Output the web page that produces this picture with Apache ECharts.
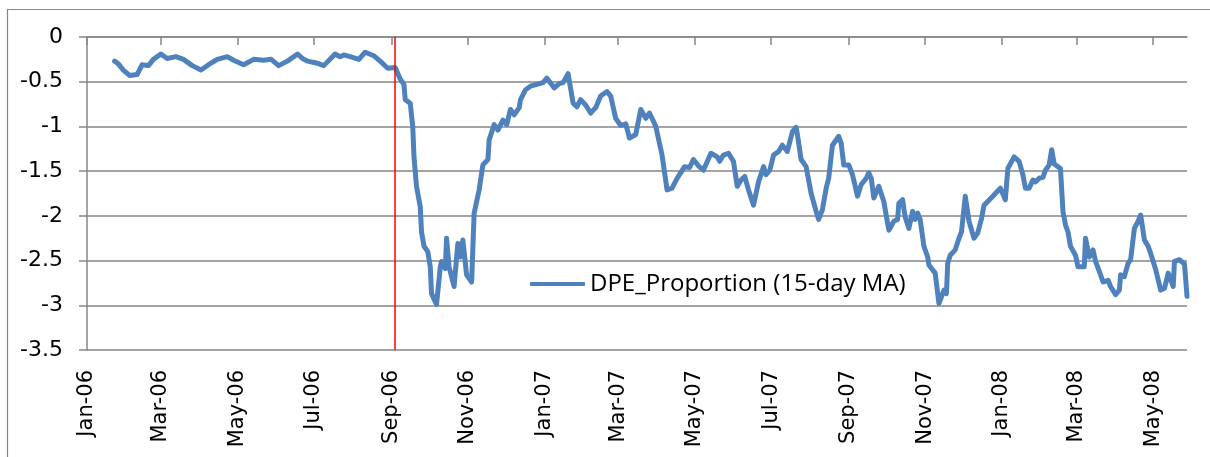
<!DOCTYPE html>
<html>
<head>
<meta charset="utf-8">
<script src="https://cdn.jsdelivr.net/npm/echarts@6/dist/echarts.min.js"></script>
<style>
  * { margin: 0; padding: 0; }
  html, body { background: #fff; }
  #main { width: 1210px; height: 457px; }
</style>
</head>
<body>
<div id="main"></div>
<script>
// 15-day MA of DPE proportion
var dates = [
  '2006-01-23', '2006-01-26', '2006-01-30', '2006-02-04', '2006-02-10', '2006-02-14', '2006-02-19', '2006-02-23',
  '2006-03-01', '2006-03-06', '2006-03-13', '2006-03-19', '2006-03-26', '2006-04-02', '2006-04-08', '2006-04-15',
  '2006-04-23', '2006-04-28', '2006-05-06', '2006-05-14', '2006-05-22', '2006-05-28', '2006-06-03', '2006-06-10',
  '2006-06-18', '2006-06-22', '2006-06-26', '2006-07-03', '2006-07-09', '2006-07-18', '2006-07-22', '2006-07-25',
  '2006-07-30', '2006-08-06', '2006-08-11', '2006-08-18', '2006-08-23', '2006-08-29', '2006-09-04', '2006-09-08',
  '2006-09-11', '2006-09-12', '2006-09-16', '2006-09-18', '2006-09-19', '2006-09-21', '2006-09-24', '2006-09-25',
  '2006-09-27', '2006-09-30', '2006-10-02', '2006-10-03', '2006-10-07', '2006-10-10', '2006-10-11', '2006-10-14',
  '2006-10-15', '2006-10-17', '2006-10-21', '2006-10-24', '2006-10-26', '2006-10-28', '2006-10-31', '2006-11-04',
  '2006-11-06', '2006-11-10', '2006-11-13', '2006-11-17', '2006-11-18', '2006-11-22', '2006-11-25', '2006-11-29',
  '2006-12-02', '2006-12-05', '2006-12-08', '2006-12-12', '2006-12-13', '2006-12-17', '2006-12-21', '2006-12-31',
  '2007-01-03', '2007-01-09', '2007-01-13', '2007-01-16', '2007-01-20', '2007-01-24', '2007-01-27', '2007-01-30',
  '2007-02-03', '2007-02-07', '2007-02-11', '2007-02-15', '2007-02-20', '2007-02-23', '2007-02-27', '2007-03-03',
  '2007-03-07', '2007-03-10', '2007-03-15', '2007-03-19', '2007-03-23', '2007-03-26', '2007-03-31', '2007-04-05',
  '2007-04-09', '2007-04-13', '2007-04-17', '2007-04-23', '2007-04-27', '2007-04-30', '2007-05-04', '2007-05-08',
  '2007-05-14', '2007-05-19', '2007-05-21', '2007-05-24', '2007-05-28', '2007-06-01', '2007-06-04', '2007-06-07',
  '2007-06-10', '2007-06-13', '2007-06-17', '2007-06-21', '2007-06-25', '2007-06-27', '2007-06-30', '2007-07-03',
  '2007-07-07', '2007-07-10', '2007-07-14', '2007-07-18', '2007-07-21', '2007-07-22', '2007-07-25', '2007-07-29',
  '2007-08-02', '2007-08-06', '2007-08-08', '2007-08-11', '2007-08-14', '2007-08-16', '2007-08-19', '2007-08-24',
  '2007-08-26', '2007-08-28', '2007-09-01', '2007-09-04', '2007-09-08', '2007-09-11', '2007-09-15', '2007-09-17',
  '2007-09-19', '2007-09-21', '2007-09-25', '2007-09-29', '2007-10-03', '2007-10-07', '2007-10-10', '2007-10-11',
  '2007-10-14', '2007-10-16', '2007-10-19', '2007-10-22', '2007-10-24', '2007-10-26', '2007-10-28', '2007-10-31',
  '2007-11-03', '2007-11-04', '2007-11-09', '2007-11-12', '2007-11-16', '2007-11-18', '2007-11-19', '2007-11-21',
  '2007-11-25', '2007-11-28', '2007-11-30', '2007-12-03', '2007-12-06', '2007-12-10', '2007-12-13', '2007-12-16',
  '2007-12-18', '2007-12-25', '2007-12-31', '2008-01-04', '2008-01-06', '2008-01-11', '2008-01-15', '2008-01-18',
  '2008-01-20', '2008-01-23', '2008-01-26', '2008-01-28', '2008-01-31', '2008-02-03', '2008-02-05', '2008-02-08',
  '2008-02-10', '2008-02-12', '2008-02-15', '2008-02-17', '2008-02-19', '2008-02-21', '2008-02-23', '2008-02-25',
  '2008-02-29', '2008-03-02', '2008-03-07', '2008-03-08', '2008-03-11', '2008-03-14', '2008-03-16', '2008-03-19',
  '2008-03-22', '2008-03-26', '2008-03-28', '2008-04-01', '2008-04-04', '2008-04-05', '2008-04-08', '2008-04-11',
  '2008-04-13', '2008-04-16', '2008-04-19', '2008-04-21', '2008-04-24', '2008-04-27', '2008-04-29', '2008-05-03',
  '2008-05-07', '2008-05-10', '2008-05-13', '2008-05-17', '2008-05-18', '2008-05-22', '2008-05-26', '2008-05-28'
]
var dpeMA = [
  -0.27, -0.30, -0.37, -0.43, -0.42, -0.31, -0.32, -0.25,
  -0.19, -0.24, -0.22, -0.25, -0.32, -0.37, -0.31, -0.25,
  -0.22, -0.26, -0.31, -0.25, -0.26, -0.25, -0.32, -0.27,
  -0.19, -0.24, -0.27, -0.29, -0.32, -0.19, -0.22, -0.20,
  -0.22, -0.25, -0.17, -0.21, -0.27, -0.35, -0.34, -0.47,
  -0.53, -0.70, -0.74, -1.00, -1.34, -1.67, -1.90, -2.18,
  -2.34, -2.40, -2.57, -2.87, -2.99, -2.57, -2.51, -2.59,
  -2.25, -2.57, -2.79, -2.31, -2.46, -2.27, -2.66, -2.74,
  -1.97, -1.71, -1.43, -1.37, -1.15, -0.98, -1.04, -0.93,
  -0.98, -0.81, -0.87, -0.79, -0.70, -0.59, -0.55, -0.51,
  -0.46, -0.57, -0.52, -0.51, -0.41, -0.74, -0.78, -0.70,
  -0.76, -0.85, -0.79, -0.66, -0.61, -0.66, -0.91, -0.99,
  -0.97, -1.13, -1.09, -0.81, -0.91, -0.85, -1.00, -1.32,
  -1.71, -1.69, -1.58, -1.45, -1.46, -1.37, -1.44, -1.49,
  -1.30, -1.34, -1.39, -1.32, -1.30, -1.39, -1.67, -1.60,
  -1.56, -1.71, -1.88, -1.62, -1.45, -1.54, -1.49, -1.32,
  -1.28, -1.21, -1.28, -1.06, -1.01, -1.09, -1.37, -1.45,
  -1.75, -1.95, -2.04, -1.93, -1.69, -1.58, -1.21, -1.11,
  -1.19, -1.43, -1.43, -1.54, -1.78, -1.65, -1.58, -1.52,
  -1.58, -1.80, -1.67, -1.84, -2.16, -2.06, -2.04, -1.86,
  -1.82, -2.01, -2.14, -1.95, -2.04, -1.97, -2.04, -2.34,
  -2.46, -2.55, -2.64, -2.98, -2.83, -2.87, -2.53, -2.44,
  -2.38, -2.25, -2.18, -1.78, -2.06, -2.25, -2.19, -2.03,
  -1.88, -1.78, -1.69, -1.82, -1.47, -1.34, -1.39, -1.54,
  -1.69, -1.69, -1.60, -1.62, -1.58, -1.57, -1.49, -1.43,
  -1.26, -1.42, -1.45, -1.47, -1.95, -2.10, -2.18, -2.34,
  -2.44, -2.57, -2.57, -2.25, -2.46, -2.38, -2.51, -2.62,
  -2.74, -2.72, -2.79, -2.88, -2.83, -2.66, -2.68, -2.53,
  -2.49, -2.14, -2.06, -1.99, -2.27, -2.34, -2.42, -2.60,
  -2.83, -2.81, -2.64, -2.79, -2.51, -2.49, -2.54, -2.90
]
var tickDates = [
  '2006-01-01', '2006-03-01', '2006-05-01', '2006-07-01', '2006-09-01', '2006-11-01', '2007-01-01', '2007-03-01',
  '2007-05-01', '2007-07-01', '2007-09-01', '2007-11-01', '2008-01-01', '2008-03-01', '2008-05-01'
]
var tickLabels = [
  'Jan-06', 'Mar-06', 'May-06', 'Jul-06', 'Sep-06', 'Nov-06', 'Jan-07', 'Mar-07',
  'May-07', 'Jul-07', 'Sep-07', 'Nov-07', 'Jan-08', 'Mar-08', 'May-08'
]
var eventDate = '2006-09-04'
var axisStart = '2006-01-01'
var axisEnd = '2008-05-28'
var seriesName = 'DPE_Proportion (15-day MA)'

var gray = '#868686'
var blue = '#4F81BD'
function toTime (d) { return echarts.time.parse(d).getTime() }
var tickTimes = tickDates.map(toTime)

function monthLabel (val) {
  var best = 0
  for (var i = 1; i < tickTimes.length; i++) {
    if (Math.abs(tickTimes[i] - val) < Math.abs(tickTimes[best] - val)) best = i
  }
  return tickLabels[best]
}

var myChart = echarts.init(document.getElementById('main'), null, { renderer: 'canvas' })

var option = {
  animation: false,
  backgroundColor: '#fff',
  graphic: [{
    type: 'rect',
    shape: { x: 7.5, y: 9.5, width: 1400, height: 700 },
    style: { fill: 'none', stroke: gray, lineWidth: 1.2 },
    silent: true,
    z: 0
  }],
  grid: { left: 87, right: 23, top: 37, bottom: 107 },
  legend: {
    left: 530,
    top: 272,
    padding: 0,
    itemWidth: 55,
    itemHeight: 4,
    data: [{ name: seriesName, icon: 'roundRect', itemStyle: { color: blue } }],
    textStyle: { fontFamily: 'Open Sans', fontSize: 24, color: '#000' }
  },
  xAxis: [{
    type: 'value',
    position: 'bottom',
    min: toTime(axisStart),
    max: toTime(axisEnd),
    axisLine: { show: false },
    axisTick: { show: false },
    splitLine: { show: false },
    axisLabel: {
      rotate: 90,
      margin: 20,
      customValues: tickTimes,
      formatter: monthLabel,
      fontFamily: 'DejaVu Sans',
      fontSize: 21,
      color: '#000'
    }
  }, {
    type: 'value',
    position: 'top',
    min: toTime(axisStart),
    max: toTime(axisEnd),
    axisLine: { show: true, onZero: false, lineStyle: { color: gray, width: 1.5 } },
    axisTick: { show: true, inside: true, length: 8, customValues: tickTimes, lineStyle: { color: gray, width: 1.5 } },
    splitLine: { show: false },
    axisLabel: { show: false }
  }],
  yAxis: {
    type: 'value',
    min: -3.5,
    max: 0,
    interval: 0.5,
    axisLine: { show: true, onZero: false, lineStyle: { color: gray, width: 1.5 } },
    axisTick: { show: true, length: 8, lineStyle: { color: gray, width: 1.5 } },
    splitLine: { show: true, lineStyle: { color: gray, width: 1.5 } },
    axisLabel: { margin: 24, fontFamily: 'DejaVu Sans', fontSize: 22, color: '#000' }
  },
  series: [{
    name: seriesName,
    type: 'line',
    xAxisIndex: 0,
    symbol: 'none',
    data: dates.map(function (d, i) { return [toTime(d), dpeMA[i]] }),
    lineStyle: { color: blue, width: 5, join: 'round', cap: 'round' },
    itemStyle: { color: blue },
    markLine: {
      silent: true,
      symbol: 'none',
      label: { show: false },
      lineStyle: { color: '#FF0000', width: 1.5, type: 'solid' },
      data: [{ xAxis: toTime(eventDate) }]
    },
    z: 3
  }]
}
myChart.setOption(option)
</script>
</body>
</html>
